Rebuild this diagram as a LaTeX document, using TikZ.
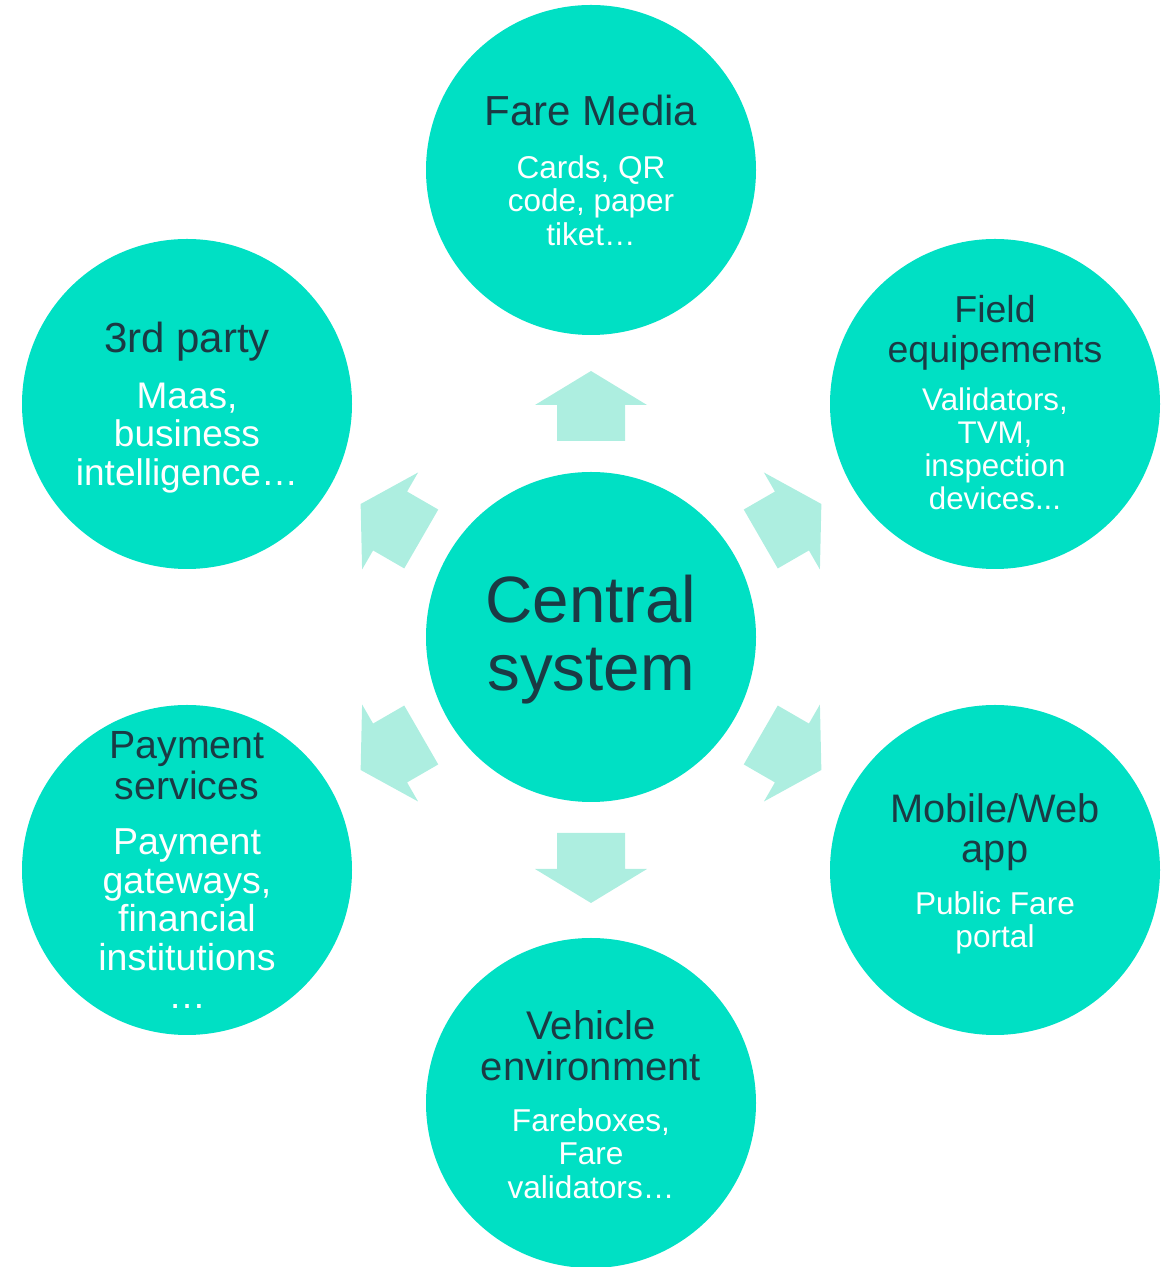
\documentclass[tikz,border=0pt]{standalone}
\usepackage{fontspec}
\setmainfont{Liberation Sans}
\definecolor{bubble}{HTML}{00E0C4}
\definecolor{pale}{HTML}{ADEEE0}
\definecolor{ink}{HTML}{1B3A44}
\tikzset{
  bub/.style={circle, fill=bubble, minimum size=330pt, inner sep=0pt},
  ttl/.style={text=ink, align=center, inner sep=0pt},
  txt/.style={text=white, align=center, inner sep=0pt},
  sz/.style 2 args={font=\fontsize{#1}{#2}\selectfont}
}
\begin{document}
\begin{tikzpicture}[x=1pt, y=1pt]
    \useasboundingbox (0,0) rectangle (1171,1267);
    % circles
    \node[bub] (cs) at (591,630) {};
    \node[bub] (fm) at (591,1097) {};
    \node[bub] (fe) at (995,863) {};
    \node[bub] (mw) at (995,397) {};
    \node[bub] (ve) at (591,164) {};
    \node[bub] (ps) at (187,397) {};
    \node[bub] (tp) at (187,863) {};
    % block arrows
    \foreach \a in {90,30,-30,-90,-150,150}
        \fill[pale, shift={(cs.center)}, rotate=\a] (196,-34) -- (232,-34) -- (232,-56) -- (266,0) -- (232,56) -- (232,34) -- (196,34) -- cycle;
    % texts
    \node[ttl, sz={65.5}{68}] (cs-t) at (591,627) {Central\\system};
    \node[ttl, sz={42}{43}] (fm-t) at (591,1156) {Fare Media};
    \node[txt, sz={31.5}{33.5}] (fm-b) at (591,1066.5) {Cards, QR\\code, paper\\tiket…};
    \node[ttl, sz={37.5}{39.5}] (fe-t) at (995,934) {Field\\equipements};
    \node[txt, sz={31.3}{33}] (fe-b) at (995,818.5) {Validators,\\TVM,\\inspection\\devices...};
    \node[ttl, sz={39.8}{40}] (mw-t) at (995,435) {Mobile/Web\\app};
    \node[txt, sz={31.6}{33.5}] (mw-b) at (995,344) {Public Fare\\portal};
    \node[ttl, sz={40}{41}] (ve-t) at (591,221.5) {Vehicle\\environment};
    \node[txt, sz={31.6}{33.5}] (ve-b) at (591,113.5) {Fareboxes,\\Fare\\validators…};
    \node[ttl, sz={39.3}{41}] (ps-t) at (187,501.5) {Payment\\services};
    \node[txt, sz={37.5}{38.5}] (ps-b) at (187,348) {Payment\\gateways,\\financial\\institutions\\…};
    \node[ttl, sz={42}{43}] (tp-t) at (187,925) {3rd party};
    \node[txt, sz={37}{38.5}] (tp-b) at (187,829) {Maas,\\business\\intelligence…};
\end{tikzpicture}
\end{document}
